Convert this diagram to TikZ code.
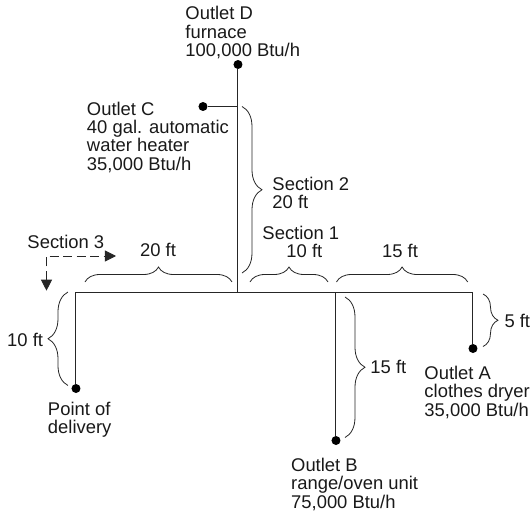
\documentclass[tikz,border=0pt]{standalone}
\usepackage{fontspec}
\setmainfont{Liberation Sans}
\usetikzlibrary{arrows.meta, positioning, decorations.pathreplacing}

\begin{document}
\begin{tikzpicture}[
    auto, line width=1pt, color=black!85,
    joint/.style={coordinate},
    outlet/.style={draw=none, fill=black, circle, inner sep=0pt,
    minimum size=9pt},
    label/.style={draw=none, inner sep=0pt, align=left, color=black!90,
    font=\fontsize{18.4}{18.3}\selectfont, execute at begin node=\strut,
    execute at end node=\strut},
    bracket/.style={draw, line width=0.8pt, decorate,
    decoration={brace, amplitude=15pt}},
    wide bracket/.style={draw, line width=0.8pt, decorate,
    decoration={brace, amplitude=20pt}},
    flow/.style={draw, line width=0.9pt, dash pattern=on 9pt off 4.5pt,
    {Triangle[length=11pt,width=11pt]}-{Triangle[length=11pt,width=11pt]}}
    ]
    \useasboundingbox (-238pt,-220pt) rectangle (293pt,292pt);

    \node[joint]   (jsec2)                                {};
    \node[joint]   (jsec1)  [right=98pt of jsec2]         {};
    \node[joint]   (jsec3)  [left=162pt of jsec2]         {};
    \node[joint]   (jA)     [right=235pt of jsec2]        {};
    \node[joint]   (jC)     [above=185.5pt of jsec2]      {};

    \node[outlet]  (dotD)   [above=222.5pt of jsec2]      {};
    \node[outlet]  (dotC)   [left=30pt of jC]             {};
    \node[outlet]  (dotB)   [below=143.5pt of jsec1]      {};
    \node[outlet]  (dotA)   [below=51.5pt of jA]          {};
    \node[outlet]  (dotP)   [below=91.5pt of jsec3]       {};

    \node[joint]   (s3down)  [left=29.5pt of jsec3, yshift=1.3pt]  {};
    \node[joint]   (s3right) [above right=36pt and 40pt of jsec3]  {};

    \node[label]   (lblD)  [above right=2pt and -53pt of dotD.center]
        {Outlet D\\furnace\\100,000 Btu/h};
    \node[label]   (lblC)  [below right=-5pt and -116.5pt of dotC.center]
        {Outlet C\\40 gal. automatic\\water heater\\35,000 Btu/h};
    \node[label]   (lblB)  [below right=17.2pt and -45.3pt of dotB.center]
        {Outlet B\\range/oven unit\\75,000 Btu/h};
    \node[label]   (lblA)  [below right=17.2pt and -49pt of dotA.center]
        {Outlet A\\clothes dryer\\35,000 Btu/h};
    \node[label]   (lblP)  [below right=13.2pt and -28.5pt of dotP.center]
        {Point of\\delivery};
    \node[label]   (sec3)  [above right=37.5pt and -49pt of jsec3]  {Section 3};
    \node[label]   (sec2)  [above right=77.5pt and 34pt of jsec2]   {Section 2\\20 ft};
    \node[label]   (sec1)  [above right=28.5pt and 24pt of jsec2]
        {Section 1\\\hspace{24pt}10 ft};
    \node[label]   (len20) [above=29.5pt of jsec2, xshift=-80pt]    {20 ft};
    \node[label]   (len15) [above=29pt of jsec1, xshift=64pt]       {15 ft};
    \node[label]   (len10) [below right=40.2pt and -69.3pt of jsec3] {10 ft};
    \node[label]   (lenB)  [below right=68pt and 34pt of jsec1]     {15 ft};
    \node[label]   (lenA)  [below right=21.2pt and 31pt of jA]      {5 ft};

    \path[draw]
    (jsec3)  -- (jA)
    (jsec2)  -- (dotD)
    (jC)     -- (dotC)
    (jsec1)  -- (dotB)
    (jA)     -- (dotA)
    (jsec3)  -- (dotP)
    ;

    \draw[flow] (s3down) |- (s3right);

    \draw[bracket] ([shift={(9pt,10pt)}]jsec3) -- ([shift={(-6pt,10pt)}]jsec2);
    \draw[bracket] ([shift={(12pt,10pt)}]jsec2) -- ([shift={(-8pt,10pt)}]jsec1);
    \draw[bracket] ([shift={(0.5pt,10pt)}]jsec1) -- ([shift={(-5.3pt,10pt)}]jA);
    \draw[bracket] ([shift={(10pt,-2pt)}]jA) -- ([shift={(10pt,2pt)}]dotA.center);
    \draw[wide bracket] ([xshift=4pt]jC) -- ([shift={(4pt,19pt)}]jsec2);
    \draw[wide bracket] ([shift={(9pt,-5pt)}]jsec1) -- ([shift={(9pt,3pt)}]dotB.center);
    \draw[wide bracket] ([shift={(-8pt,3pt)}]dotP.center) -- ([xshift=-8pt]jsec3);
  \end{tikzpicture}
\end{document}
